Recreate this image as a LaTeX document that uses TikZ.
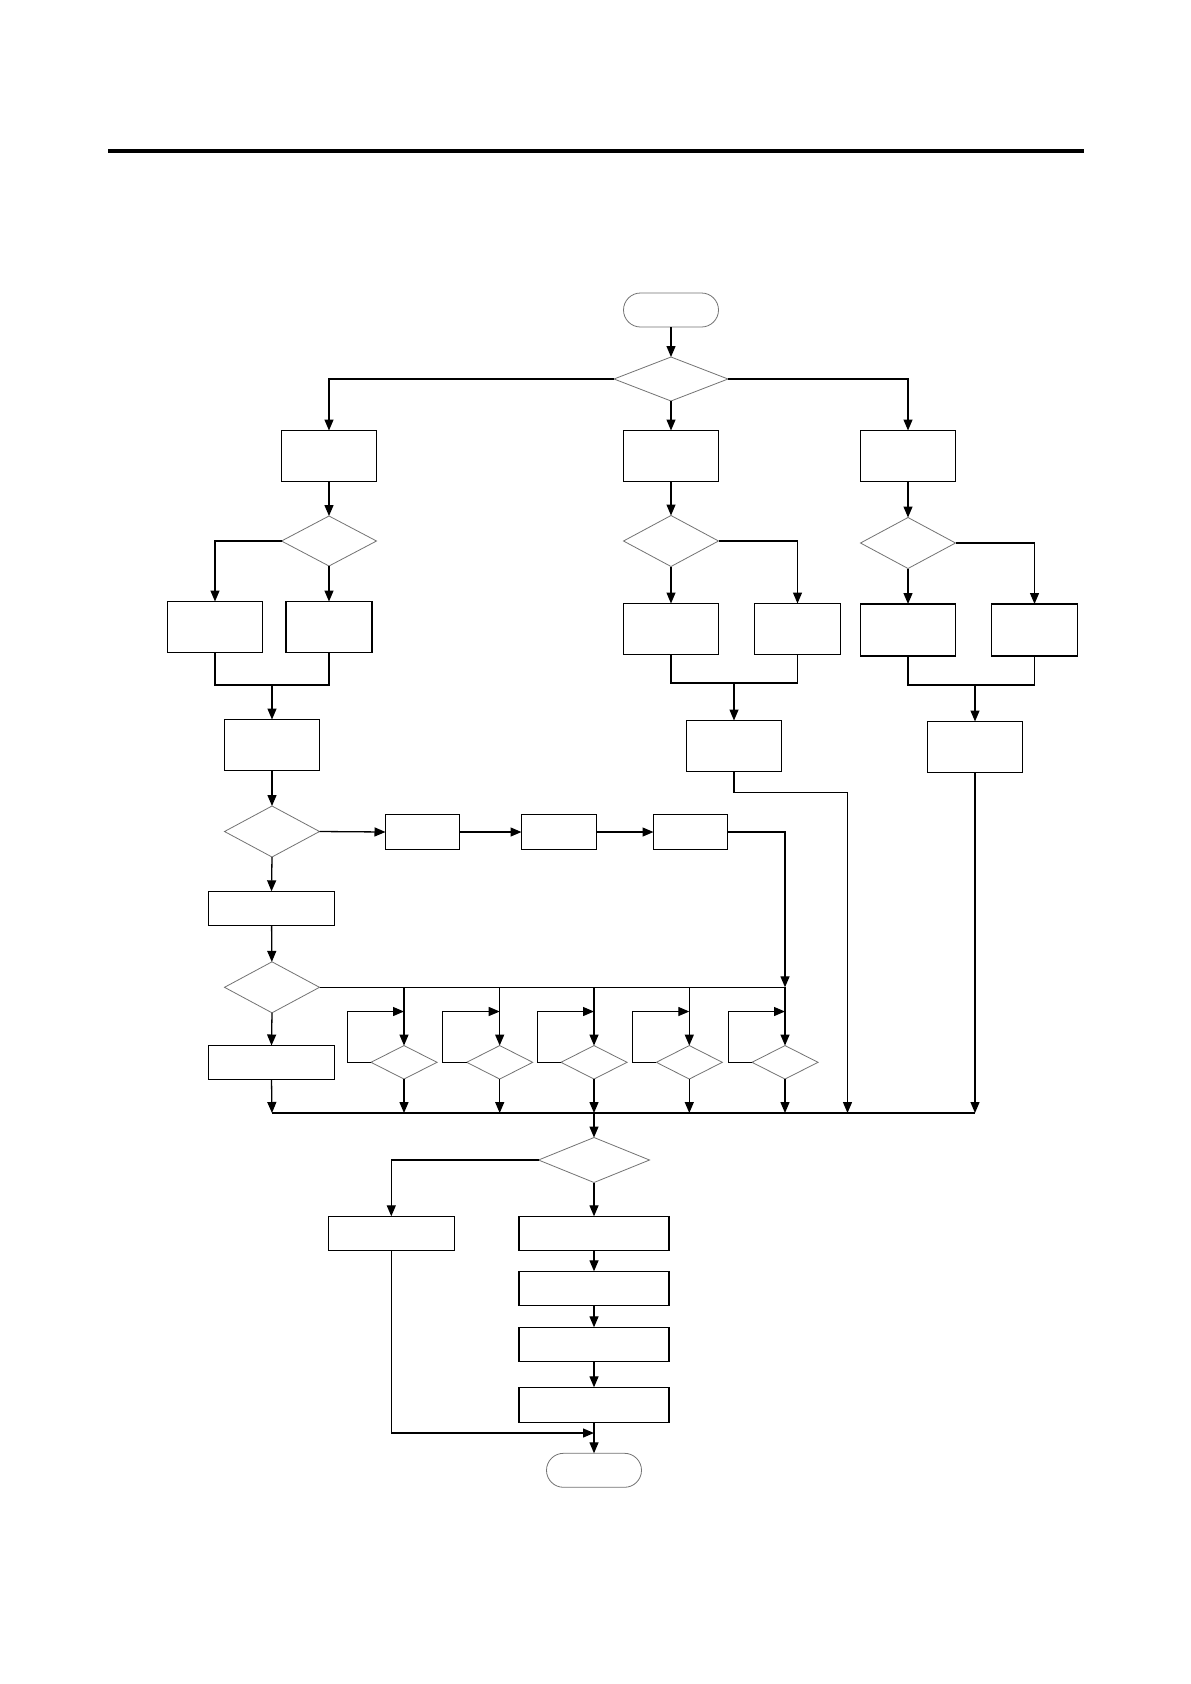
\documentclass[tikz,border=0pt]{standalone}
\usetikzlibrary{shapes.geometric,arrows.meta}
\begin{document}
\begin{tikzpicture}[x=1pt,y=-1pt,
  box/.style={draw,line width=1.4pt,inner sep=0pt,outer sep=0pt,minimum width=#1},
  box/.default=95pt,
  dia/.style={diamond,draw=black!55,line width=0.8pt,inner sep=0pt,outer sep=0pt},
  term/.style={draw=black!55,line width=0.8pt,rounded corners=17pt,inner sep=0pt,outer sep=0pt,minimum width=95pt,minimum height=34pt},
  ln/.style={line width=1.3pt},
  arr/.style={ln,-{Triangle[length=11pt,width=9pt]}}]
\useasboundingbox (0,0) rectangle (1191,1684);
\fill[white] (0,0) rectangle (1191,1684);
% top rule
\coordinate (r1) at (108,151);
\coordinate (r2) at (1084,151);
\draw[line width=3.5pt] (r1) -- (r2);

% top
\node[term] (start) at (671,310) {};
\node[dia,minimum width=114pt,minimum height=44pt] (d1) at (671,379) {};
\node[box,minimum height=51pt] (b1) at (329,456) {};
\node[box,minimum height=51pt] (b2) at (671,456) {};
\node[box,minimum height=51pt] (b3) at (908,456) {};
\draw[arr] (start) -- (d1);
\draw[arr] (d1.west) -| (b1.north);
\draw[arr] (d1.south) -- (b2.north);
\draw[arr] (d1.east) -| (b3.north);

% second level diamonds
\node[dia,minimum width=95pt,minimum height=50pt] (d2) at (329,541) {};
\node[dia,minimum width=95pt,minimum height=51pt] (d3) at (671,541) {};
\node[dia,minimum width=95pt,minimum height=51pt] (d4) at (908,543) {};
\draw[arr] (b1) -- (d2);
\draw[arr] (b2) -- (d3);
\draw[arr] (b3) -- (d4);

% left group
\node[box,minimum height=51pt] (b4) at (215,627) {};
\node[box=86pt,minimum height=51pt] (b5) at (329,627) {};
\draw[arr] (d2.west) -| (b4.north);
\draw[arr] (d2.south) -- (b5.north);
\coordinate (j1) at (272,685);
\node[box,minimum height=51pt] (b6) at (272,745) {};
\draw[ln] (b4.south) |- (j1) -| (b5.south);
\draw[arr] (j1) -- (b6.north);

% middle group
\node[box,minimum height=51pt] (b7) at (671,629) {};
\node[box=86pt,minimum height=51pt] (b8) at (797.5,629) {};
\draw[arr] (d3.south) -- (b7.north);
\draw[arr] (d3.east) -| (b8.north);
\coordinate (j2) at (734,683);
\node[box,minimum height=51pt] (b9) at (734,746) {};
\draw[ln] (b7.south) |- (j2) -| (b8.south);
\draw[arr] (j2) -- (b9.north);

% right group
\node[box,minimum height=52pt] (b10) at (908,630) {};
\node[box=86pt,minimum height=52pt] (b11) at (1034.5,630) {};
\draw[arr] (d4.south) -- (b10.north);
\draw[arr] (d4.east) -| (b11.north);
\coordinate (j3) at (975,685);
\node[box,minimum height=51pt] (b12) at (975,747) {};
\draw[ln] (b10.south) |- (j3) -| (b11.south);
\draw[arr] (j3) -- (b12.north);

% collector coordinates
\coordinate (cL) at (272,1113);
\coordinate (c9) at (847.5,1113);
\coordinate (c12) at (975,1113);
\coordinate (cm) at (594,1113);
\coordinate (k9) at (847.5,792.5);
\draw[ln] (b9.south) |- (k9);
\draw[arr] (k9) -- (c9);
\draw[arr] (b12.south) -- (c12);

% lower left chain
\node[dia,minimum width=95pt,minimum height=51pt] (d5) at (272,831.5) {};
\draw[arr] (b6) -- (d5);
\node[box=74pt,minimum height=35pt] (s1) at (422.5,832) {};
\node[box=75pt,minimum height=35pt] (s2) at (559,832) {};
\node[box=74pt,minimum height=35pt] (s3) at (690.5,832) {};
\draw[arr] (d5.east) -- (s1.west);
\draw[arr] (s1) -- (s2);
\draw[arr] (s2) -- (s3);
\coordinate (h5) at (785,987.3);
\draw[arr] (s3.east) -| (h5);

\node[box=126pt,minimum height=34pt] (b13) at (271.5,908.3) {};
\draw[arr] (d5.south) -- (b13.north);
\node[dia,minimum width=95pt,minimum height=51pt] (d6) at (272,987.3) {};
\draw[arr] (b13) -- (d6);
\draw[ln] (d6.east) -- (h5);
\node[box=126pt,minimum height=34pt] (b14) at (271.5,1062.5) {};
\draw[arr] (d6.south) -- (b14.north);
\draw[arr] (b14.south) -- (cL);

% small diamonds with loops
\foreach \i/\x/\lx in {1/404/347.3, 2/499.7/442.7, 3/594/537.3, 4/689.3/632.7, 5/785/728.3} {
  \node[dia,minimum width=66pt,minimum height=33.5pt] (sd\i) at (\x,1062.3) {};
  \coordinate (t\i) at (\x,987.3);
  \coordinate (l\i) at (\x,1011.5);
  \coordinate (bt\i) at (\x,1113);
  \draw[arr] (t\i) -- (sd\i.north);
  \draw[arr] (sd\i.west) -| (\lx,1011.5) -- (l\i);
  \draw[arr] (sd\i.south) -- (bt\i);
}

% collector line
\draw[ln] (cL) -- (c12);

% bottom part
\node[dia,minimum width=111pt,minimum height=45pt] (d7) at (594,1160) {};
\draw[arr] (cm) -- (d7.north);
\node[box=126pt,minimum height=34pt] (b15) at (391.3,1233.3) {};
\node[box=150pt,minimum height=34pt] (b16) at (594,1233.3) {};
\node[box=150pt,minimum height=34pt] (b17) at (594,1288.3) {};
\node[box=150pt,minimum height=34pt] (b18) at (594,1344.3) {};
\node[box=150pt,minimum height=35pt] (b19) at (594,1404.8) {};
\node[term] (end) at (594,1470.3) {};
\draw[arr] (d7.west) -| (b15.north);
\draw[arr] (d7.south) -- (b16.north);
\draw[arr] (b16) -- (b17);
\draw[arr] (b17) -- (b18);
\draw[arr] (b18) -- (b19);
\draw[arr] (b19) -- (end);
\coordinate (m15) at (594,1433);
\draw[arr] (b15.south) |- (m15);
\end{tikzpicture}
\end{document}
